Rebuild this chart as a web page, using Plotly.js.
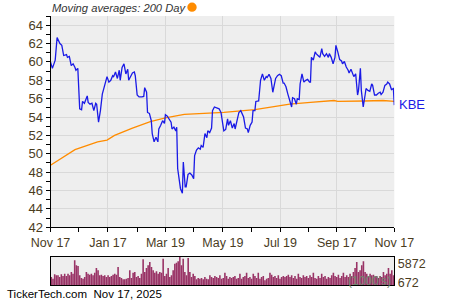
<!DOCTYPE html>
<html>
<head>
<meta charset="utf-8">
<script src="https://cdn.plot.ly/plotly-3.0.1.min.js"></script>
<style>html,body{margin:0;padding:0;background:#fff;}#chart{width:450px;height:300px;}</style>
</head>
<body>
<div id="chart"></div>
<script>
var priceDates = ["2024-11-17","2024-11-19","2024-11-22","2024-11-24","2024-11-27","2024-11-29","2024-12-01","2024-12-04","2024-12-05","2024-12-07","2024-12-09","2024-12-11","2024-12-13","2024-12-14","2024-12-16","2024-12-18","2024-12-20","2024-12-21","2024-12-23","2024-12-26","2024-12-27","2024-12-29","2024-12-31","2025-01-02","2025-01-04","2025-01-05","2025-01-07","2025-01-09","2025-01-11","2025-01-13","2025-01-14","2025-01-16","2025-01-18","2025-01-20","2025-01-22","2025-01-23","2025-01-25","2025-01-27","2025-01-29","2025-01-30","2025-02-01","2025-02-03","2025-02-05","2025-02-07","2025-02-08","2025-02-10","2025-02-12","2025-02-14","2025-02-15","2025-02-17","2025-02-19","2025-02-22","2025-02-24","2025-02-25","2025-02-27","2025-02-28","2025-03-02","2025-03-04","2025-03-05","2025-03-07","2025-03-09","2025-03-11","2025-03-12","2025-03-14","2025-03-16","2025-03-18","2025-03-19","2025-03-21","2025-03-23","2025-03-25","2025-03-26","2025-03-28","2025-03-30","2025-03-31","2025-04-01","2025-04-03","2025-04-04","2025-04-06","2025-04-07","2025-04-09","2025-04-10","2025-04-12","2025-04-14","2025-04-16","2025-04-18","2025-04-19","2025-04-21","2025-04-23","2025-04-25","2025-04-26","2025-04-28","2025-04-30","2025-05-02","2025-05-03","2025-05-05","2025-05-07","2025-05-08","2025-05-10","2025-05-12","2025-05-15","2025-05-17","2025-05-20","2025-05-22","2025-05-24","2025-05-25","2025-05-27","2025-05-29","2025-05-31","2025-06-01","2025-06-03","2025-06-05","2025-06-07","2025-06-08","2025-06-10","2025-06-12","2025-06-14","2025-06-15","2025-06-17","2025-06-19","2025-06-20","2025-06-22","2025-06-23","2025-06-26","2025-06-27","2025-06-28","2025-06-30","2025-07-02","2025-07-04","2025-07-05","2025-07-07","2025-07-09","2025-07-11","2025-07-13","2025-07-14","2025-07-16","2025-07-18","2025-07-20","2025-07-22","2025-07-23","2025-07-25","2025-07-27","2025-07-29","2025-07-31","2025-08-01","2025-08-03","2025-08-05","2025-08-06","2025-08-08","2025-08-09","2025-08-11","2025-08-13","2025-08-15","2025-08-17","2025-08-19","2025-08-20","2025-08-21","2025-08-23","2025-08-25","2025-08-26","2025-08-28","2025-08-30","2025-09-01","2025-09-02","2025-09-04","2025-09-06","2025-09-08","2025-09-09","2025-09-11","2025-09-13","2025-09-15","2025-09-16","2025-09-18","2025-09-20","2025-09-22","2025-09-23","2025-09-25","2025-09-27","2025-09-29","2025-09-30","2025-10-02","2025-10-04","2025-10-05","2025-10-07","2025-10-09","2025-10-10","2025-10-12","2025-10-13","2025-10-15","2025-10-17","2025-10-18","2025-10-20","2025-10-22","2025-10-24","2025-10-25","2025-10-27","2025-10-29","2025-10-31","2025-11-02","2025-11-03","2025-11-05","2025-11-07","2025-11-09","2025-11-10","2025-11-12","2025-11-14","2025-11-16","2025-11-17"];
var priceValues = [60.0,59.3,60.2,62.65,62.0,61.8,60.7,60.8,60.5,60.6,59.6,59.8,59.4,59.1,59.3,54.9,54.8,55.7,55.5,56.3,55.6,55.4,55.5,54.7,55.5,55.4,53.45,54.7,56.5,57.3,57.6,58.4,57.8,58.0,58.5,58.4,58.9,58.2,59.1,58.0,59.4,59.8,58.7,59.2,58.0,58.4,58.8,58.9,58.5,56.4,56.2,56.2,56.25,57.2,56.7,54.5,54.4,53.6,52.2,51.3,51.8,51.3,52.7,53.1,53.6,53.3,54.25,54.1,53.7,53.45,52.7,52.9,52.5,52.9,48.4,46.5,46.2,45.7,49.1,46.4,46.4,47.75,47.9,47.7,47.3,49.8,50.4,50.65,50.5,50.9,50.7,52.2,51.75,52.5,52.3,52.8,54.7,55.1,55.0,54.9,54.5,52.5,52.65,53.8,53.1,53.6,52.8,53.3,52.7,53.6,54.5,54.7,54.4,54.0,52.8,52.7,52.3,53.1,53.45,54.7,54.7,55.7,55.75,57.45,58.0,58.7,58.0,58.4,58.3,58.65,58.2,56.7,57.6,58.2,58.5,58.65,58.5,57.7,57.7,57.3,56.5,55.8,55.1,56.1,56.0,55.4,56.0,55.9,57.6,58.7,57.8,58.0,58.1,57.8,57.8,60.5,60.2,61.1,60.9,60.7,60.5,61.45,60.9,60.6,60.9,60.5,60.9,60.5,59.8,60.5,61.8,61.1,60.25,60.1,59.8,60.05,59.45,59.1,58.8,59.2,58.7,58.4,58.7,56.4,56.9,59.3,56.9,55.1,56.4,57.1,56.9,56.8,57.6,57.45,56.4,56.4,56.6,56.7,56.45,56.7,57.45,57.6,57.8,57.6,57.0,57.1,55.3];

var maDates = ["2024-11-17","2024-11-25","2024-12-13","2025-01-06","2025-01-16","2025-01-24","2025-02-12","2025-03-03","2025-03-19","2025-04-08","2025-04-26","2025-05-20","2025-06-22","2025-07-15","2025-07-29","2025-08-20","2025-09-10","2025-09-14","2025-09-18","2025-10-12","2025-10-16","2025-11-05","2025-11-17"];
var maValues = [48.75,49.3,50.45,51.3,51.5,52.0,52.8,53.5,53.9,54.3,54.4,54.5,54.8,55.15,55.4,55.6,55.7,55.8,55.7,55.7,55.75,55.8,55.7];

var volumeValues = [2210,1770,2920,2650,2650,2210,2920,2480,3090,2480,3090,2650,3540,3090,6630,5300,5130,2650,1940,1770,2210,3540,3090,2830,3090,2650,3360,4600,3980,2650,2830,2480,2650,2210,2650,2210,2480,2830,3090,2830,4860,2210,1940,1590,1590,1770,1940,3980,1940,3360,3540,2210,2480,1940,3090,6900,3540,4600,5300,6190,4860,3980,3360,3710,3090,3540,3360,7070,
2480,3090,4600,2210,2650,3980,5750,6010,6360,7600,5300,7070,3540,2650,7250,3540,2210,3090,2480,1590,1940,1770,1940,1590,2210,1770,1590,2650,2210,1940,2480,2210,1940,2650,1770,1940,3360,2480,1770,2210,1940,2210,2480,1770,1940,3090,1770,2210,2480,3360,1940,2210,1770,3090,2480,1940,3360,1770,2210,2480,1330,1770,1940,3360,2830,2210,2480,1940,2650,1770,2210,2480,
2210,2480,2830,2210,2650,1940,2480,1770,3090,2210,1940,2650,2210,2480,1940,2650,2210,3360,1940,1770,2480,1940,3090,2210,2480,1770,2210,1940,2650,3360,2480,2210,2830,1940,2480,3360,2210,2650,2210,3090,2480,3540,4600,6190,3540,3980,5300,6360,3540,3090,2480,3090,2650,2830,2210,2480,1940,2480,2210,3540,2650,3090,4600,3090,3980,2650];

var xTickVals = ["2024-11-17","2025-01-17","2025-03-19","2025-05-19","2025-07-19","2025-09-17","2025-11-17"];
var xTickText = ["Nov 17","Jan 17","Mar 19","May 19","Jul 19","Sep 17","Nov 17"];
var xMinorVals = ["2024-12-17","2025-02-17","2025-04-18","2025-06-18","2025-08-18","2025-10-17"];
var volTickVals = [672, 5872];
var volTickText = ["672", "5872"];
var seriesName = "KBE";
var titleText = "Moving averages: 200 Day";
var footerText = "TickerTech.com\u00a0\u00a0Nov 17, 2025";

var W = 450, H = 300;
var FONT = "Liberation Sans, Arial, sans-serif";
var TXT = "#4a3c1e";
function px(x){return x/W;}
function py(y){return 1 - y/H;}

var traces = [
  {x: maDates, y: maValues, type: "scatter", mode: "lines", line: {color: "#ff8c00", width: 1.3}, xaxis: "x", yaxis: "y", hoverinfo: "skip"},
  {x: priceDates, y: priceValues, type: "scatter", mode: "lines", line: {color: "#1a1ae6", width: 1.3}, xaxis: "x", yaxis: "y", hoverinfo: "skip"},
  {y: volumeValues, type: "bar", marker: {color: "#993366", line: {width: 0}}, xaxis: "x2", yaxis: "y2", hoverinfo: "skip"}
];

var layout = {
  width: W, height: H, autosize: false,
  margin: {l: 0, r: 0, t: 0, b: 0, pad: 0},
  paper_bgcolor: "#ffffff",
  plot_bgcolor: "#eeeeee",
  showlegend: false,
  bargap: 0.05,
  font: {family: FONT, size: 12, color: TXT},
  xaxis: {
    type: "date",
    domain: [px(50.5), px(394.3)],
    range: ["2024-11-17", "2025-11-17"],
    tickmode: "array", tickvals: xTickVals, ticktext: xTickText,
    ticks: "outside", ticklen: 4, tickcolor: "#000", tickwidth: 1,
    showline: true, linecolor: "#000", linewidth: 1,
    showgrid: true, gridcolor: "#d9d9d9", gridwidth: 1,
    zeroline: false,
    tickfont: {family: FONT, size: 12.5, color: TXT},
    minor: {tickmode: "array", tickvals: xMinorVals, ticks: "outside", ticklen: 4, tickcolor: "#000", showgrid: false},
    anchor: "y", fixedrange: true
  },
  yaxis: {
    domain: [py(227.3), py(16)],
    range: [42, 65],
    tickmode: "linear", tick0: 42, dtick: 2,
    ticks: "outside", ticklen: 4, tickcolor: "#000",
    showline: true, linecolor: "#000", linewidth: 1,
    showgrid: true, gridcolor: "#d9d9d9", gridwidth: 1,
    zeroline: false,
    tickfont: {family: FONT, size: 13, color: TXT},
    minor: {tickmode: "linear", tick0: 42, dtick: 1, ticks: "outside", ticklen: 4, tickcolor: "#000", showgrid: false},
    anchor: "x", fixedrange: true
  },
  xaxis2: {
    domain: [px(50.5), px(394.3)],
    range: [-0.5, volumeValues.length - 0.5],
    showticklabels: false, ticks: "",
    showline: true, mirror: true, linecolor: "#000", linewidth: 1,
    showgrid: false, zeroline: false,
    anchor: "y2", fixedrange: true
  },
  yaxis2: {
    domain: [py(285.3), py(256.7)],
    range: [0, 7600],
    side: "right",
    tickmode: "array", tickvals: volTickVals, ticktext: volTickText,
    ticks: "", showline: true, mirror: true, linecolor: "#000", linewidth: 1,
    showgrid: false, zeroline: false,
    tickfont: {family: FONT, size: 12.5, color: TXT},
    anchor: "x2", fixedrange: true
  },
  shapes: [
    {type: "circle", xref: "paper", yref: "paper", x0: px(187.3), x1: px(196.7), y0: py(11.8), y1: py(2.6), fillcolor: "#ff8c00", line: {width: 0}}
  ],
  annotations: [
    {text: "<i>" + titleText + "</i>", xref: "paper", yref: "paper", x: px(49.5), y: py(8), xanchor: "left", yanchor: "middle", showarrow: false, font: {family: FONT, size: 11.2, color: "#333333"}},
    {text: seriesName, xref: "paper", yref: "paper", x: px(396.5), y: py(104.5), xanchor: "left", yanchor: "middle", showarrow: false, font: {family: FONT, size: 13, color: "#1a1ae6"}},
    {text: "(1000's)", xref: "paper", yref: "paper", x: px(369), y: py(280.5), xanchor: "center", yanchor: "middle", showarrow: false, font: {family: FONT, size: 12, color: "#6f866f"}},
    {text: footerText, xref: "paper", yref: "paper", x: px(4.5), y: py(294), xanchor: "left", yanchor: "middle", showarrow: false, font: {family: FONT, size: 11.5, color: "#000000"}}
  ]
};

Plotly.newPlot("chart", traces, layout, {staticPlot: true, displayModeBar: false});
</script>
</body>
</html>
